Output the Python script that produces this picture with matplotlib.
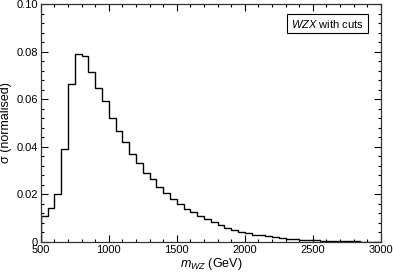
import numpy as np
import matplotlib
matplotlib.use("Agg")
import matplotlib.pyplot as plt
from matplotlib.ticker import MultipleLocator, FuncFormatter

# bin edges (GeV) and normalised cross section per 50 GeV bin
bin_lo = np.arange(500, 3000, 50)
sigma = [0.0110, 0.0144, 0.0203, 0.0392, 0.0663, 0.0790, 0.0783, 0.0716, 0.0647, 0.0591,
         0.0520, 0.0465, 0.0420, 0.0370, 0.0331, 0.0291, 0.0263, 0.0232, 0.0205, 0.0179,
         0.0160, 0.0140, 0.0124, 0.0110, 0.0098, 0.0084, 0.0071, 0.0060, 0.0051, 0.0043,
         0.0036, 0.0031, 0.0028, 0.0025, 0.0021, 0.0017, 0.0014, 0.0011, 0.0009, 0.0007,
         0.0006, 0.0005, 0.0004, 0.0003, 0.0003, 0.0002, 0.0002, 0.0001, 0.0001, 0.0001]
edges = np.append(bin_lo, 3000)

plt.rcParams['font.family'] = ['Liberation Sans', 'DejaVu Sans']
plt.rcParams['mathtext.fontset'] = 'custom'
plt.rcParams['mathtext.it'] = 'Liberation Sans:italic'
plt.rcParams['mathtext.rm'] = 'Liberation Sans'

fig = plt.figure(figsize=(3.93, 2.73), dpi=100)
fig.patch.set_facecolor('white')
ax = fig.add_axes([0.104, 0.114, 0.865, 0.871])

ax.stairs(sigma, edges, color="black", linewidth=1.0)

ax.set_xlim(500, 3000)
ax.set_ylim(0, 0.1)
ax.xaxis.set_major_locator(MultipleLocator(500))
ax.xaxis.set_minor_locator(MultipleLocator(100))
ax.yaxis.set_major_locator(MultipleLocator(0.02))
ax.yaxis.set_minor_locator(MultipleLocator(0.004))
ax.yaxis.set_major_formatter(FuncFormatter(lambda v, p: "0" if v == 0 else "%.2f" % v))
ax.tick_params(which="both", direction="in", top=True, right=True, labelsize=8, pad=2)
ax.tick_params(which="major", length=5, width=0.8)
ax.tick_params(which="minor", length=2.5, width=0.8)
for s in ax.spines.values():
    s.set_linewidth(0.9)
    s.set_color("#333333")

ax.set_xlabel("$m_{WZ}$ (GeV)", fontsize=9, labelpad=1)
ax.set_ylabel("σ (normalised)", fontsize=9, labelpad=3)

ax.text(0.843, 0.918, "$WZX$ with cuts", transform=ax.transAxes, fontsize=8,
        ha="center", va="center",
        bbox=dict(boxstyle="square,pad=0.35", facecolor="white", edgecolor="black", linewidth=0.8))

fig.savefig("out.png", dpi=100)
